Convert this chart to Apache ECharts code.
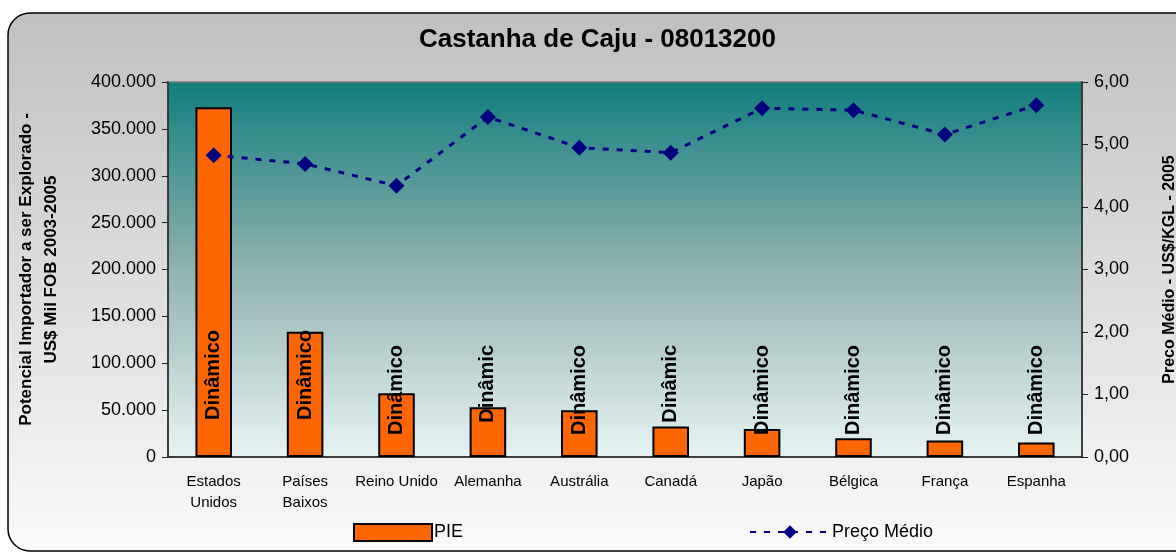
<!DOCTYPE html>
<html>
<head>
<meta charset="utf-8">
<title>Castanha de Caju - 08013200</title>
<script src="https://cdn.jsdelivr.net/npm/echarts@6/dist/echarts.min.js"></script>
<style>
  html, body { margin: 0; padding: 0; background: #ffffff; }
  #chart { width: 1176px; height: 552px; }
</style>
</head>
<body>
<div id="chart"></div>
<script>
// Importing countries
const categories = ['Estados\nUnidos', 'Países\nBaixos', 'Reino Unido', 'Alemanha', 'Austrália',
                    'Canadá', 'Japão', 'Bélgica', 'França', 'Espanha'];
// PIE – potencial importador a ser explorado (US$ mil FOB, 2003-2005)
const pieValues = [373000, 133500, 68000, 53000, 50000, 32500, 30000, 20000, 17500, 15500];
// Preço médio (US$/KGL, 2005)
const precoMedio = [4.83, 4.69, 4.34, 5.44, 4.95, 4.87, 5.58, 5.55, 5.16, 5.63];
// Text written on each bar
const barLabels = ['Dinâmico', 'Dinâmico', 'Dinâmico', 'Dinâmic', 'Dinâmico',
                   'Dinâmic', 'Dinâmico', 'Dinâmico', 'Dinâmico', 'Dinâmico'];
// Tick labels
const leftTicks = ['0', '50.000', '100.000', '150.000', '200.000', '250.000', '300.000', '350.000', '400.000'];
const rightTicks = ['0,00', '1,00', '2,00', '3,00', '4,00', '5,00', '6,00'];

const FONT = '"Liberation Sans", Arial, sans-serif';
const chart = echarts.init(document.getElementById('chart'), null, { renderer: 'canvas' });

chart.setOption({
  animation: false,
  textStyle: { fontFamily: FONT, color: '#000' },
  graphic: [{
    type: 'rect',
    z: -10,
    silent: true,
    shape: { x: 8, y: 13, width: 1200, height: 538, r: 22 },
    style: {
      fill: new echarts.graphic.LinearGradient(0, 0, 0, 1, [
        { offset: 0, color: '#c0c0c0' },
        { offset: 1, color: '#fafafa' }
      ]),
      stroke: '#000',
      lineWidth: 1.5
    }
  }],
  title: {
    text: 'Castanha de Caju - 08013200',
    left: 414,
    top: 22,
    textStyle: { fontFamily: FONT, fontSize: 26, fontWeight: 'bold', color: '#000' }
  },
  legend: [{
    data: [{ name: 'PIE', icon: 'rect' }],
    left: 348,
    top: 518,
    itemWidth: 78,
    itemHeight: 17,
    textStyle: { fontFamily: FONT, fontSize: 18, color: '#000', padding: [0, 0, 0, -3] }
  }, {
    data: ['Preço Médio'],
    left: 744,
    top: 518,
    itemWidth: 80,
    itemHeight: 17,
    textStyle: { fontFamily: FONT, fontSize: 18, color: '#000', padding: [0, 0, 0, -3] }
  }],
  grid: {
    left: 168, right: 94, top: 82, bottom: 95,
    outerBoundsMode: 'none',
    containLabel: false,
    show: true,
    borderColor: '#7a7a7a',
    borderWidth: 1.5,
    backgroundColor: new echarts.graphic.LinearGradient(0, 0, 0, 1, [
      { offset: 0, color: '#117e7c' },
      { offset: 0.5, color: '#90b2b0' },
      { offset: 1, color: '#e8f4f4' }
    ])
  },
  xAxis: {
    type: 'category',
    data: categories,
    axisLine: { lineStyle: { color: '#222', width: 1.5 } },
    axisTick: { length: 6, lineStyle: { color: '#222' } },
    axisLabel: { interval: 0, fontFamily: FONT, fontSize: 15, lineHeight: 21, color: '#000', margin: 14 }
  },
  yAxis: [{
    type: 'value',
    min: 0, max: 400000, interval: 50000,
    name: 'Potencial Importador a ser Explorado -\nUS$ Mil FOB 2003-2005',
    nameLocation: 'middle',
    nameGap: 104,
    nameRotate: 90,
    nameTextStyle: { fontFamily: FONT, fontSize: 17, fontWeight: 'bold', color: '#000', lineHeight: 25 },
    axisLine: { show: true, lineStyle: { color: '#222', width: 1.5 } },
    axisTick: { show: true, length: 6, lineStyle: { color: '#222' } },
    splitLine: { show: false },
    axisLabel: {
      fontFamily: FONT, fontSize: 18, color: '#000', margin: 12,
      formatter: (v) => leftTicks[Math.round(v / 50000)]
    }
  }, {
    type: 'value',
    min: 0, max: 6, interval: 1,
    position: 'right',
    name: 'Preco Médio - US$/KGL - 2005',
    nameLocation: 'middle',
    nameGap: 80,
    nameRotate: 90,
    nameTextStyle: { fontFamily: FONT, fontSize: 16, fontWeight: 'bold', color: '#000' },
    axisLine: { show: true, lineStyle: { color: '#222', width: 1.5 } },
    axisTick: { show: true, length: 6, lineStyle: { color: '#222' } },
    splitLine: { show: false },
    axisLabel: {
      fontFamily: FONT, fontSize: 18, color: '#000', margin: 12,
      formatter: (v) => rightTicks[Math.round(v)]
    }
  }],
  series: [{
    name: 'PIE',
    type: 'bar',
    yAxisIndex: 0,
    barCategoryGap: '60%',
    itemStyle: { color: '#ff6600', borderColor: '#000', borderWidth: 2 },
    data: pieValues.map((v, i) => ({
      value: v,
      label: {
        show: true,
        position: 'insideBottom',
        distance: v > 120000 ? 127 : 112,
        rotate: 90,
        align: 'right',
        verticalAlign: 'middle',
        fontFamily: FONT,
        fontSize: 20,
        fontWeight: 'bold',
        color: '#000',
        formatter: () => barLabels[i]
      }
    }))
  }, {
    name: 'Preço Médio',
    type: 'line',
    yAxisIndex: 1,
    data: precoMedio,
    symbol: 'diamond',
    symbolSize: 16,
    itemStyle: { color: '#000080' },
    lineStyle: { color: '#000080', width: 3, type: [6, 8] },
    z: 5
  }]
});
</script>
</body>
</html>
